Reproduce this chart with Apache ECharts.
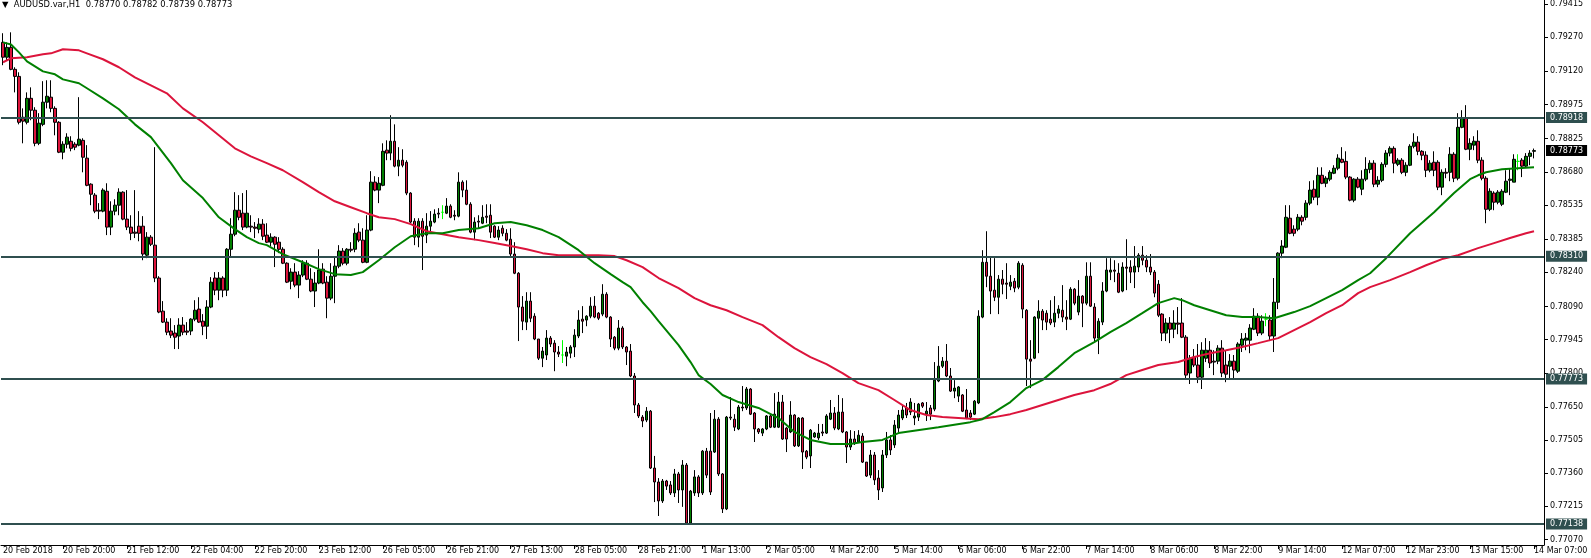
<!DOCTYPE html>
<html><head><meta charset="utf-8">
<script src="https://cdn.jsdelivr.net/npm/echarts@6/dist/echarts.min.js"></script>
<style>html,body{margin:0;padding:0;background:#fff;overflow:hidden}#c{width:1591px;height:558px}</style>
</head><body><div id="c"></div>
<script>
const symbolName = 'AUDUSD.var,H1';
const firstLabel = '20 Feb 2018';
// trading sessions: [day, first hour, last hour]
const sessions = [['20 Feb',5,23],['21 Feb',0,23],['22 Feb',0,23],['23 Feb',0,20],['25 Feb',22,23],['26 Feb',0,23],['27 Feb',0,23],['28 Feb',0,23],['1 Mar',0,23],['2 Mar',0,20],['4 Mar',22,23],['5 Mar',0,23],['6 Mar',0,23],['7 Mar',0,23],['8 Mar',0,23],['9 Mar',0,20],['11 Mar',22,23],['12 Mar',0,23],['13 Mar',0,23],['14 Mar',0,7]];

const opens = [
0.79247,0.79182,0.79225,0.79129,0.79098,0.78919,0.78897,0.79002,0.78950,0.78805,
0.78888,0.78985,0.79007,0.78958,0.78897,0.78766,0.78801,0.78814,0.78801,0.78797,
0.78818,0.78740,0.78626,0.78578,0.78512,0.78508,0.78595,0.78438,0.78508,0.78534,
0.78591,0.78473,0.78438,0.78416,0.78442,0.78442,0.78315,0.78394,0.78359,0.78215,
0.78070,0.78022,0.77983,0.77974,0.77961,0.78009,0.77983,0.77983,0.78035,0.78079,
0.78026,0.78004,0.78088,0.78215,0.78162,0.78215,0.78162,0.78341,0.78407,0.78512,
0.78499,0.78438,0.78442,0.78438,0.78429,0.78451,0.78403,0.78372,0.78394,0.78372,
0.78341,0.78280,0.78201,0.78241,0.78184,0.78228,0.78280,0.78210,0.78158,0.78193,
0.78254,0.78197,0.78127,0.78223,0.78267,0.78333,0.78280,0.78341,0.78341,0.78416,
0.78381,0.78284,0.78425,0.78635,0.78600,0.78621,0.78775,0.78762,0.78814,0.78705,
0.78731,0.78722,0.78587,0.78464,0.78394,0.78464,0.78403,0.78442,0.78460,0.78499,
0.78503,0.78499,0.78530,0.78490,0.78486,0.78635,0.78600,0.78538,0.78416,0.78464,
0.78455,0.78486,0.78490,0.78442,0.78394,0.78433,0.78411,0.78385,0.78320,0.78236,
0.78088,0.78022,0.78114,0.78048,0.77948,0.77864,0.77878,0.77952,0.77930,0.77891,
0.77878,0.77873,0.77886,0.77913,0.77961,0.78035,0.78031,0.78048,0.78092,0.78061,
0.78057,0.78144,0.78044,0.77956,0.77908,0.77996,0.77913,0.77895,0.77786,0.77659,
0.77606,0.77593,0.77632,0.77383,0.77322,0.77239,0.77326,0.77309,0.77274,0.77357,
0.77287,0.77396,0.77142,0.77274,0.77344,0.77274,0.77457,0.77457,0.77453,0.77597,
0.77357,0.77204,0.77606,0.77597,0.77554,0.77650,0.77646,0.77729,0.77624,0.77554,
0.77536,0.77554,0.77611,0.77562,0.77562,0.77672,0.77558,0.77541,0.77615,0.77480,
0.77602,0.77457,0.77436,0.77519,0.77515,0.77541,0.77536,0.77597,0.77624,0.77554,
0.77628,0.77541,0.77475,0.77510,0.77497,0.77523,0.77409,0.77352,0.77440,0.77339,
0.77296,0.77440,0.77506,0.77484,0.77558,0.77602,0.77646,0.77628,0.77602,0.77606,
0.77668,0.77619,0.77646,0.77641,0.77764,0.77829,0.77851,0.77786,0.77720,0.77698,
0.77703,0.77637,0.77624,0.77619,0.77668,0.78044,0.78284,0.78223,0.78162,0.78131,
0.78210,0.78193,0.78179,0.78201,0.78175,0.78271,0.78074,0.77860,0.77864,0.78039,
0.78070,0.78061,0.78035,0.78022,0.78061,0.78074,0.78044,0.78035,0.78166,0.78066,
0.78136,0.78105,0.78223,0.78088,0.77952,0.78022,0.78158,0.78241,0.78250,0.78236,
0.78158,0.78263,0.78263,0.78241,0.78263,0.78315,0.78293,0.78263,0.78241,0.78188,
0.78057,0.77974,0.78018,0.77991,0.78018,0.78018,0.77956,0.77799,0.77869,0.77834,
0.77781,0.77864,0.77899,0.77851,0.77851,0.77908,0.77834,0.77829,0.77851,0.77807,
0.77921,0.77943,0.77943,0.77991,0.78048,0.77974,0.78035,0.78031,0.77961,0.78109,
0.78324,0.78350,0.78477,0.78429,0.78429,0.78481,0.78481,0.78543,0.78604,0.78569,
0.78665,0.78630,0.78648,0.78674,0.78696,0.78735,0.78726,0.78657,0.78556,0.78648,
0.78604,0.78648,0.78691,0.78718,0.78626,0.78643,0.78713,0.78762,0.78783,0.78713,
0.78731,0.78678,0.78709,0.78792,0.78810,0.78770,0.78753,0.78687,0.78722,0.78722,
0.78613,0.78678,0.78678,0.78757,0.78652,0.78875,0.78915,0.78779,0.78797,0.78814,
0.78731,0.78652,0.78516,0.78587,0.78547,0.78538,0.78591,0.78643,0.78635,0.78726,
0.78731,0.78705,0.78748,0.78770];

const highs = [
0.79287,0.79247,0.79291,0.79138,0.79116,0.78958,0.79028,0.79050,0.78963,0.78937,
0.79077,0.79081,0.79081,0.78967,0.78902,0.78814,0.78849,0.78836,0.78810,0.79007,
0.78827,0.78797,0.78630,0.78587,0.78543,0.78608,0.78630,0.78551,0.78560,0.78608,
0.78595,0.78600,0.78490,0.78600,0.78508,0.78486,0.78416,0.78403,0.78788,0.78223,
0.78114,0.78039,0.78039,0.78009,0.78039,0.78044,0.78022,0.78039,0.78118,0.78131,
0.78057,0.78118,0.78219,0.78241,0.78241,0.78223,0.78346,0.78477,0.78591,0.78578,
0.78587,0.78600,0.78490,0.78460,0.78477,0.78473,0.78455,0.78411,0.78398,0.78394,
0.78350,0.78284,0.78258,0.78280,0.78245,0.78293,0.78293,0.78258,0.78241,0.78341,
0.78280,0.78223,0.78280,0.78306,0.78359,0.78346,0.78346,0.78372,0.78433,0.78455,
0.78433,0.78490,0.78683,0.78661,0.78657,0.78805,0.78818,0.78928,0.78888,0.78788,
0.78779,0.78731,0.78591,0.78477,0.78477,0.78477,0.78499,0.78508,0.78516,0.78521,
0.78534,0.78565,0.78538,0.78512,0.78678,0.78643,0.78643,0.78547,0.78481,0.78490,
0.78534,0.78538,0.78538,0.78446,0.78442,0.78446,0.78429,0.78433,0.78372,0.78241,
0.78136,0.78153,0.78153,0.78061,0.77948,0.77913,0.77987,0.77961,0.77943,0.77917,
0.77943,0.77913,0.77921,0.77991,0.78074,0.78092,0.78052,0.78131,0.78136,0.78066,
0.78188,0.78153,0.78048,0.77961,0.78031,0.78004,0.77917,0.77926,0.77799,0.77668,
0.77615,0.77650,0.77637,0.77436,0.77339,0.77335,0.77331,0.77326,0.77379,0.77366,
0.77418,0.77405,0.77287,0.77374,0.77352,0.77462,0.77471,0.77624,0.77637,0.77606,
0.77361,0.77611,0.77694,0.77619,0.77659,0.77742,0.77738,0.77733,0.77628,0.77558,
0.77558,0.77615,0.77619,0.77711,0.77716,0.77703,0.77562,0.77676,0.77619,0.77606,
0.77606,0.77462,0.77554,0.77541,0.77576,0.77576,0.77619,0.77681,0.77650,0.77703,
0.77689,0.77545,0.77549,0.77545,0.77549,0.77536,0.77409,0.77462,0.77453,0.77374,
0.77462,0.77541,0.77527,0.77593,0.77637,0.77659,0.77668,0.77689,0.77668,0.77668,
0.77672,0.77672,0.77659,0.77847,0.77917,0.77869,0.77926,0.77821,0.77768,0.77742,
0.77707,0.77729,0.77637,0.77681,0.78074,0.78337,0.78420,0.78306,0.78302,0.78228,
0.78250,0.78280,0.78228,0.78215,0.78289,0.78280,0.78079,0.77943,0.78048,0.78118,
0.78079,0.78074,0.78118,0.78136,0.78096,0.78184,0.78118,0.78175,0.78171,0.78206,
0.78140,0.78284,0.78284,0.78105,0.78039,0.78197,0.78302,0.78302,0.78293,0.78280,
0.78284,0.78385,0.78293,0.78355,0.78324,0.78355,0.78315,0.78320,0.78250,0.78206,
0.78061,0.78039,0.78044,0.78074,0.78088,0.78127,0.77965,0.77878,0.77904,0.77926,
0.77934,0.77952,0.77939,0.77899,0.77921,0.77943,0.77899,0.77882,0.77878,0.77934,
0.77974,0.77974,0.78013,0.78083,0.78061,0.78052,0.78061,0.78052,0.78215,0.78328,
0.78381,0.78534,0.78534,0.78446,0.78495,0.78490,0.78556,0.78639,0.78643,0.78700,
0.78700,0.78661,0.78687,0.78709,0.78757,0.78788,0.78770,0.78661,0.78652,0.78657,
0.78687,0.78744,0.78731,0.78731,0.78661,0.78722,0.78775,0.78792,0.78792,0.78740,
0.78740,0.78722,0.78801,0.78849,0.78836,0.78775,0.78770,0.78731,0.78770,0.78731,
0.78691,0.78696,0.78788,0.78766,0.78937,0.78950,0.78972,0.78827,0.78836,0.78862,
0.78744,0.78661,0.78608,0.78595,0.78600,0.78604,0.78687,0.78696,0.78757,0.78757,
0.78740,0.78762,0.78775,0.78782];

const lows = [
0.79147,0.79168,0.79125,0.79028,0.78888,0.78805,0.78888,0.78906,0.78792,0.78797,
0.78880,0.78958,0.78941,0.78840,0.78762,0.78735,0.78783,0.78770,0.78775,0.78792,
0.78678,0.78617,0.78534,0.78499,0.78473,0.78503,0.78403,0.78403,0.78490,0.78490,
0.78468,0.78425,0.78381,0.78390,0.78376,0.78293,0.78302,0.78355,0.78197,0.78061,
0.78018,0.77965,0.77952,0.77904,0.77904,0.77965,0.77965,0.77965,0.78026,0.78018,
0.77965,0.77948,0.78083,0.78140,0.78118,0.78131,0.78136,0.78306,0.78398,0.78468,
0.78425,0.78433,0.78416,0.78390,0.78411,0.78381,0.78368,0.78355,0.78263,0.78324,
0.78276,0.78193,0.78166,0.78175,0.78127,0.78219,0.78206,0.78153,0.78088,0.78188,
0.78188,0.78039,0.78118,0.78105,0.78258,0.78271,0.78271,0.78328,0.78328,0.78372,
0.78280,0.78280,0.78420,0.78595,0.78543,0.78617,0.78731,0.78731,0.78700,0.78661,
0.78700,0.78578,0.78455,0.78359,0.78350,0.78250,0.78368,0.78416,0.78455,0.78477,
0.78473,0.78495,0.78477,0.78468,0.78481,0.78569,0.78534,0.78411,0.78381,0.78433,
0.78451,0.78455,0.78390,0.78390,0.78381,0.78398,0.78376,0.78311,0.78232,0.77939,
0.77987,0.77987,0.78022,0.77943,0.77856,0.77825,0.77856,0.77913,0.77807,0.77869,
0.77843,0.77829,0.77864,0.77869,0.77952,0.77974,0.78004,0.78039,0.78039,0.78031,
0.78048,0.78039,0.77913,0.77899,0.77899,0.77904,0.77834,0.77781,0.77624,0.77602,
0.77562,0.77584,0.77379,0.77234,0.77173,0.77230,0.77287,0.77265,0.77256,0.77230,
0.77213,0.77138,0.77134,0.77261,0.77256,0.77265,0.77339,0.77265,0.77449,0.77348,
0.77186,0.77199,0.77593,0.77545,0.77549,0.77632,0.77637,0.77615,0.77497,0.77532,
0.77523,0.77549,0.77558,0.77558,0.77558,0.77506,0.77453,0.77536,0.77475,0.77475,
0.77379,0.77422,0.77383,0.77515,0.77506,0.77523,0.77532,0.77593,0.77549,0.77549,
0.77536,0.77405,0.77462,0.77484,0.77493,0.77405,0.77344,0.77339,0.77309,0.77243,
0.77278,0.77427,0.77440,0.77471,0.77541,0.77593,0.77602,0.77615,0.77571,0.77589,
0.77646,0.77589,0.77593,0.77632,0.77759,0.77821,0.77781,0.77716,0.77689,0.77672,
0.77628,0.77597,0.77593,0.77615,0.77663,0.78039,0.78175,0.78057,0.78114,0.78057,
0.78144,0.78123,0.78162,0.78153,0.78166,0.78039,0.77742,0.77733,0.77860,0.77886,
0.77987,0.77987,0.78009,0.78000,0.78039,0.78022,0.77987,0.78031,0.78096,0.78052,
0.78000,0.78096,0.78088,0.77934,0.77882,0.78009,0.78153,0.78206,0.78197,0.78149,
0.78153,0.78162,0.78193,0.78171,0.78241,0.78271,0.78241,0.78228,0.78131,0.78044,
0.77939,0.77939,0.77930,0.77952,0.77969,0.77952,0.77777,0.77751,0.77825,0.77755,
0.77729,0.77847,0.77821,0.77790,0.77838,0.77781,0.77759,0.77773,0.77773,0.77799,
0.77891,0.77899,0.77886,0.77987,0.77961,0.77965,0.78004,0.77939,0.77891,0.78079,
0.78302,0.78346,0.78407,0.78398,0.78420,0.78446,0.78468,0.78534,0.78556,0.78534,
0.78626,0.78613,0.78639,0.78670,0.78687,0.78718,0.78648,0.78551,0.78547,0.78608,
0.78578,0.78639,0.78674,0.78613,0.78613,0.78635,0.78700,0.78748,0.78674,0.78705,
0.78670,0.78661,0.78705,0.78783,0.78753,0.78731,0.78657,0.78678,0.78661,0.78600,
0.78578,0.78652,0.78639,0.78635,0.78643,0.78871,0.78775,0.78731,0.78775,0.78718,
0.78643,0.78455,0.78508,0.78512,0.78538,0.78530,0.78587,0.78578,0.78635,0.78687,
0.78657,0.78700,0.78709,0.78739];

const closes = [
0.79182,0.79225,0.79129,0.79098,0.78897,0.78902,0.79002,0.78950,0.78805,0.78893,
0.78985,0.79011,0.78958,0.78897,0.78766,0.78801,0.78832,0.78783,0.78788,0.78823,
0.78744,0.78621,0.78582,0.78508,0.78508,0.78600,0.78438,0.78508,0.78534,0.78591,
0.78473,0.78438,0.78411,0.78411,0.78411,0.78320,0.78394,0.78363,0.78215,0.78066,
0.78022,0.77978,0.77965,0.77956,0.78009,0.77978,0.77978,0.78035,0.78074,0.78022,
0.78004,0.78088,0.78197,0.78162,0.78215,0.78162,0.78341,0.78407,0.78512,0.78481,
0.78438,0.78499,0.78438,0.78433,0.78451,0.78398,0.78372,0.78394,0.78363,0.78341,
0.78280,0.78197,0.78241,0.78184,0.78228,0.78280,0.78210,0.78158,0.78193,0.78250,
0.78193,0.78127,0.78223,0.78267,0.78333,0.78280,0.78341,0.78337,0.78411,0.78381,
0.78284,0.78425,0.78635,0.78600,0.78630,0.78770,0.78762,0.78814,0.78705,0.78731,
0.78709,0.78587,0.78460,0.78394,0.78464,0.78398,0.78442,0.78464,0.78495,0.78495,
0.78503,0.78530,0.78481,0.78486,0.78635,0.78600,0.78538,0.78416,0.78460,0.78460,
0.78481,0.78481,0.78416,0.78394,0.78425,0.78411,0.78381,0.78320,0.78236,0.78088,
0.78026,0.78114,0.78039,0.77948,0.77864,0.77895,0.77952,0.77926,0.77891,0.77882,
0.77878,0.77891,0.77913,0.77965,0.78031,0.78026,0.78048,0.78092,0.78044,0.78039,
0.78144,0.78044,0.77948,0.77908,0.77996,0.77913,0.77891,0.77786,0.77659,0.77611,
0.77589,0.77632,0.77383,0.77322,0.77239,0.77326,0.77304,0.77274,0.77357,0.77287,
0.77396,0.77142,0.77282,0.77344,0.77274,0.77457,0.77352,0.77278,0.77597,0.77357,
0.77204,0.77606,0.77602,0.77562,0.77650,0.77646,0.77729,0.77619,0.77554,0.77541,
0.77554,0.77611,0.77562,0.77619,0.77672,0.77510,0.77510,0.77615,0.77480,0.77602,
0.77453,0.77431,0.77549,0.77536,0.77536,0.77536,0.77611,0.77624,0.77558,0.77628,
0.77541,0.77475,0.77510,0.77493,0.77527,0.77409,0.77348,0.77440,0.77331,0.77287,
0.77440,0.77506,0.77462,0.77571,0.77615,0.77637,0.77615,0.77672,0.77611,0.77663,
0.77654,0.77632,0.77619,0.77768,0.77829,0.77851,0.77786,0.77720,0.77733,0.77738,
0.77632,0.77602,0.77606,0.77676,0.78048,0.78284,0.78223,0.78158,0.78131,0.78210,
0.78188,0.78188,0.78197,0.78171,0.78280,0.78079,0.77860,0.77851,0.78044,0.78070,
0.78031,0.78022,0.78018,0.78061,0.78079,0.78044,0.78035,0.78166,0.78105,0.78136,
0.78105,0.78223,0.78092,0.77952,0.78026,0.78158,0.78250,0.78250,0.78245,0.78153,
0.78263,0.78258,0.78241,0.78267,0.78315,0.78293,0.78263,0.78241,0.78149,0.78052,
0.77974,0.78018,0.77991,0.78018,0.78013,0.77956,0.77790,0.77864,0.77834,0.77781,
0.77899,0.77899,0.77843,0.77847,0.77908,0.77799,0.77794,0.77851,0.77812,0.77926,
0.77948,0.77952,0.77996,0.78048,0.77974,0.78026,0.78035,0.77961,0.78109,0.78324,
0.78355,0.78481,0.78411,0.78411,0.78481,0.78464,0.78543,0.78600,0.78569,0.78665,
0.78630,0.78652,0.78678,0.78696,0.78740,0.78722,0.78657,0.78556,0.78648,0.78613,
0.78648,0.78691,0.78718,0.78626,0.78643,0.78713,0.78762,0.78783,0.78718,0.78731,
0.78678,0.78709,0.78792,0.78810,0.78770,0.78753,0.78687,0.78718,0.78687,0.78613,
0.78678,0.78674,0.78757,0.78652,0.78875,0.78915,0.78779,0.78805,0.78814,0.78731,
0.78652,0.78516,0.78595,0.78547,0.78591,0.78595,0.78639,0.78648,0.78735,0.78726,
0.78705,0.78748,0.78762,0.78773];

// moving averages: [bar index, value]
const maGreen = [[0,0.79247],[2,0.79238],[4,0.79203],[6,0.79164],[10,0.79120],[13,0.79107],[15,0.79085],[19,0.79068],[21,0.79046],[25,0.79002],[29,0.78954],[33,0.78888],[37,0.78832],[42,0.78718],[45,0.78643],[50,0.78565],[54,0.78481],[58,0.78429],[61,0.78394],[64,0.78368],[66,0.78359],[70,0.78320],[75,0.78284],[79,0.78254],[83,0.78232],[87,0.78228],[90,0.78241],[94,0.78293],[98,0.78350],[102,0.78398],[106,0.78411],[110,0.78411],[114,0.78425],[119,0.78433],[123,0.78455],[127,0.78460],[131,0.78446],[135,0.78425],[139,0.78394],[144,0.78337],[148,0.78280],[152,0.78232],[155,0.78197],[157,0.78175],[160,0.78109],[162,0.78070],[164,0.78026],[169,0.77921],[172,0.77847],[174,0.77790],[177,0.77751],[180,0.77703],[184,0.77672],[189,0.77646],[194,0.77602],[198,0.77541],[202,0.77506],[207,0.77488],[212,0.77488],[215,0.77497],[220,0.77506],[224,0.77536],[234,0.77562],[242,0.77584],[245,0.77597],[248,0.77628],[252,0.77672],[256,0.77733],[260,0.77768],[264,0.77825],[268,0.77886],[273,0.77934],[277,0.77978],[281,0.78018],[285,0.78061],[289,0.78105],[293,0.78127],[295,0.78118],[298,0.78096],[302,0.78074],[306,0.78052],[310,0.78044],[314,0.78044],[318,0.78039],[323,0.78066],[327,0.78092],[331,0.78127],[335,0.78162],[339,0.78206],[342,0.78236],[346,0.78302],[352,0.78411],[358,0.78503],[363,0.78587],[367,0.78648],[369,0.78665],[371,0.78678],[375,0.78691],[379,0.78696],[383,0.78700]];
const maRed = [[0,0.79160],[2,0.79177],[6,0.79182],[10,0.79195],[12,0.79199],[15,0.79217],[19,0.79212],[21,0.79199],[25,0.79173],[29,0.79138],[33,0.79094],[37,0.79059],[41,0.79024],[45,0.78958],[50,0.78897],[54,0.78840],[58,0.78783],[62,0.78748],[66,0.78718],[70,0.78687],[75,0.78635],[79,0.78591],[83,0.78551],[87,0.78525],[91,0.78499],[94,0.78481],[98,0.78473],[102,0.78451],[106,0.78420],[110,0.78407],[114,0.78394],[119,0.78381],[123,0.78368],[127,0.78355],[131,0.78341],[135,0.78324],[139,0.78315],[144,0.78315],[149,0.78315],[153,0.78311],[156,0.78293],[160,0.78263],[164,0.78215],[169,0.78171],[173,0.78127],[177,0.78096],[181,0.78074],[185,0.78044],[190,0.78009],[194,0.77956],[198,0.77908],[202,0.77869],[206,0.77838],[210,0.77799],[214,0.77755],[219,0.77724],[223,0.77681],[227,0.77637],[231,0.77615],[235,0.77606],[239,0.77602],[244,0.77597],[248,0.77606],[252,0.77619],[256,0.77637],[260,0.77659],[264,0.77681],[268,0.77703],[273,0.77724],[277,0.77751],[281,0.77790],[285,0.77812],[289,0.77834],[294,0.77847],[298,0.77869],[302,0.77886],[306,0.77899],[310,0.77913],[314,0.77930],[319,0.77952],[323,0.77987],[327,0.78022],[331,0.78061],[335,0.78096],[339,0.78149],[342,0.78175],[347,0.78206],[352,0.78241],[356,0.78271],[360,0.78298],[364,0.78315],[369,0.78346],[373,0.78368],[377,0.78390],[381,0.78411],[383,0.78420]];

const levels = [0.78918, 0.78310, 0.77773, 0.77138];
const priceTicks = [0.77070,0.77215,0.77360,0.77505,0.77650,0.77800,0.77945,0.78090,0.78240,0.78385,0.78535,0.78680,0.78825,0.78975,0.79120,0.79270,0.79415];
const yMin = 0.77046, yMax = 0.79431;

// ---- build ----
const categories = [];
sessions.forEach(([d, h0, h1]) => { for (let h = h0; h <= h1; h++) categories.push(d + ' ' + String(h).padStart(2, '0') + ':00'); });
const axisCats = categories.concat(['', '']);
const nBars = categories.length;
const lastI = nBars - 1;
const lastPrice = closes[lastI];

const candleData = opens.map((o, i) => {
  const v = [o, closes[i], lows[i], highs[i]];
  if (o === closes[i]) return { value: v, itemStyle: { color: '#00ff00', color0: '#00ff00', borderColor: '#00ff00', borderColor0: '#00ff00' } };
  return v;
});

const FONT = 'DejaVu Sans';
const showIdx = (i) => i === 0 || (i >= 15 && (i - 15) % 16 === 0 && i < nBars);
const boxLabel = (bg) => ({
  show: true, position: 'end', distance: 2,
  formatter: (p) => Number(p.value).toFixed(5),
  color: '#fff', backgroundColor: bg, padding: [2, 4, 1, 4],
  fontSize: 8, fontFamily: FONT, opacity: 1
});

const chart = echarts.init(document.getElementById('c'), null, { renderer: 'canvas' });
chart.setOption({
  animation: false,
  backgroundColor: '#fff',
  title: {
    text: '▼  ' + symbolName + '  ' + [opens[lastI], highs[lastI], lows[lastI], closes[lastI]].map(v => v.toFixed(5)).join(' '),
    left: 2, top: 1, padding: 0,
    textStyle: { fontSize: 8.4, fontWeight: 'normal', fontFamily: FONT, color: '#000' }
  },
  grid: { left: 0, right: 47, top: 0, bottom: 13, containLabel: false },
  xAxis: {
    type: 'category', data: axisCats, boundaryGap: true,
    axisLine: { show: true, lineStyle: { color: '#000', width: 1 } },
    axisTick: { show: true, interval: (i) => showIdx(i) && i > 0, alignWithLabel: true, length: 4, lineStyle: { color: '#000' } },
    axisLabel: {
      interval: (i) => showIdx(i),
      formatter: (v, i) => i === 0 ? firstLabel : v,
      align: 'left', margin: 2, color: '#000', fontSize: 8, fontFamily: FONT, hideOverlap: false
    },
    splitLine: { show: false }
  },
  yAxis: {
    type: 'value', position: 'right', min: yMin, max: yMax, scale: true,
    axisLine: { show: true, lineStyle: { color: '#000', width: 1 } },
    axisTick: { show: true, customValues: priceTicks, length: 4, lineStyle: { color: '#000' } },
    axisLabel: { customValues: priceTicks, formatter: (v) => Number(v).toFixed(5), margin: 6, color: '#000', fontSize: 8, fontFamily: FONT },
    splitLine: { show: false }
  },
  series: [
    {
      type: 'candlestick', data: candleData, barWidth: 3, z: 2,
      itemStyle: { color: '#008000', color0: '#dc143c', borderColor: '#000', borderColor0: '#000', borderWidth: 1 },
      markLine: {
        silent: true, symbol: ['none', 'none'], animation: false, z: 5, precision: 5,
        lineStyle: { color: '#2f4f4f', width: 2, type: 'solid' },
        label: boxLabel('#2f4f4f'),
        emphasis: { disabled: true },
        data: levels.map(v => ({ yAxis: v })).concat([{ yAxis: lastPrice, lineStyle: { color: 'rgba(0,0,0,0)', width: 1 }, label: boxLabel('#000') }])
      }
    },
    { type: 'line', data: maRed, showSymbol: false, symbol: 'none', z: 3, lineStyle: { color: '#dc143c', width: 2 }, itemStyle: { color: '#dc143c' } },
    { type: 'line', data: maGreen, showSymbol: false, symbol: 'none', z: 3, lineStyle: { color: '#008000', width: 2 }, itemStyle: { color: '#008000' } }
  ]
});
</script>
</body></html>
